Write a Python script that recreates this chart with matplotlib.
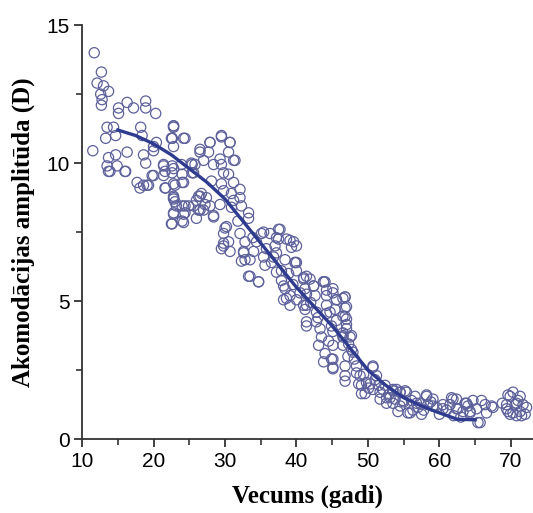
import matplotlib
matplotlib.use("Agg")
import matplotlib.pyplot as plt
from matplotlib.ticker import MultipleLocator

# scatter data (age, accommodation amplitude)
age = [
    11.7, 12.7, 12.1, 13.0, 13.7, 12.6, 12.8, 12.7, 11.5, 13.5, 14.4, 13.3, 14.7, 13.7, 13.5,
    13.7, 14.7, 14.9, 16.1, 16.3, 15.1, 16.3, 17.2, 18.9, 18.9, 20.3, 15.1, 18.2, 18.4, 18.6,
    18.9, 19.8, 17.7, 18.6, 19.3, 20.0, 22.8, 22.6, 24.4, 22.8, 21.4, 21.4, 22.6, 22.6, 24.0,
    21.7, 22.8, 24.0, 25.4, 25.4, 22.8, 23.0, 22.8, 24.0, 24.4, 22.6, 24.0, 24.9, 26.3, 26.3,
    26.5, 13.9, 16.0, 18.1, 19.1, 22.8, 22.6, 22.8,
    29.5, 30.7, 27.9, 26.5, 27.7, 30.5, 31.4, 27.0, 28.4, 29.5, 29.8, 30.5, 25.8, 25.6, 28.1,
    29.5, 31.2, 32.1, 29.8, 30.9, 26.7, 26.0, 27.2, 26.5, 27.9, 29.3, 31.2, 32.1, 32.3, 28.4,
    30.9, 33.3, 33.3, 30.2, 29.8, 30.5, 29.8, 32.1, 32.8, 32.6, 32.8, 34.0, 34.4, 35.1, 36.3,
    37.5, 37.2, 38.6, 39.3, 37.0, 35.4, 35.6, 36.5, 33.5, 34.7, 37.2, 37.9, 38.4, 38.6, 39.1,
    40.0, 40.0, 41.0, 41.2, 40.5, 41.0, 26.0,
    39.6, 39.8, 41.0, 41.9, 42.4, 43.8, 44.2, 45.1, 46.8, 47.0, 46.8, 45.6, 45.4, 44.2, 42.6,
    41.4, 41.2, 41.4, 42.8, 44.2, 45.6, 47.0, 47.7, 46.5, 45.1, 43.5, 43.1, 44.0, 43.8, 44.9,
    45.1, 45.1, 46.5, 47.2, 47.9, 46.8, 46.8, 48.4, 48.9, 49.1, 49.6, 50.7, 51.2, 50.3, 52.4,
    53.5, 54.5, 51.7, 53.1,
    52.1, 52.6, 53.5, 53.5, 54.5, 55.2, 54.9, 54.2, 55.6, 56.1, 56.6, 57.3, 57.5, 58.2, 58.4,
    59.1, 59.6, 60.5, 61.5, 61.7, 62.4, 62.6, 63.3, 63.6, 64.3, 64.7, 65.2, 65.4, 66.4, 66.6,
    67.5, 69.6, 70.3, 71.3, 69.4, 70.6, 71.7, 69.9, 70.8, 72.0, 69.6, 71.3,
    44.0, 45.1, 46.5, 46.8, 47.0, 47.0, 46.5, 47.5, 47.7, 45.1, 45.1, 46.8, 48.4, 49.8, 50.7,
    49.1, 50.7, 51.7, 52.6, 54.0, 55.4, 54.5, 55.9, 58.2, 59.1, 56.8, 60.5, 61.9, 62.4, 63.8,
    64.3, 65.7, 65.9, 67.3, 69.9, 70.8, 72.2, 70.3, 71.5, 69.4,
    22.8, 22.5, 24.2, 29.5, 30.7, 27.9, 31.2, 29.3, 20.4, 20.0, 21.4, 21.6, 20.0, 22.8, 23.9,
    25.3, 21.6, 23.0, 24.2, 22.8, 23.2, 24.4, 22.8, 24.2, 22.5, 24.2, 25.6, 27.0, 28.4, 26.5,
    27.4, 30.0, 29.8, 29.5, 30.7, 32.6, 32.3, 33.5, 33.3, 34.7, 35.4, 37.7, 37.5, 39.1, 40.0,
    37.2, 38.4, 39.8, 37.9, 38.2, 39.1, 38.2, 40.0, 41.4, 42.4, 43.8, 44.2, 45.6, 46.8, 41.4,
    42.8, 44.7, 41.4, 43.3, 44.9, 46.5, 46.5,
    # extra points in the dense middle and lower band
    31.8, 33.9, 35.8, 36.8, 38.9, 39.5, 42.0, 43.0, 44.5, 47.3, 48.1, 48.7, 49.4, 50.1, 51.0,
    51.5, 52.9, 53.8, 55.0, 56.3, 57.0, 57.8, 58.8, 60.0, 61.0, 62.0, 63.0, 64.0, 68.8, 71.0,
]
amplitude = [
    14.0, 13.3, 12.9, 12.8, 12.6, 12.5, 12.3, 12.1, 10.45, 11.3, 11.3, 10.9, 11.0, 10.2, 9.9,
    9.7, 10.3, 9.9, 9.7, 10.4, 12.0, 12.2, 12.0, 12.25, 12.0, 11.8, 11.8, 11.3, 11.0, 10.3,
    10.0, 9.55, 9.3, 9.2, 9.2, 10.6, 11.35, 10.9, 10.9, 10.6, 9.9, 9.55, 9.9, 9.65, 9.6,
    9.1, 9.25, 9.3, 9.95, 9.65, 8.8, 8.6, 8.2, 8.45, 8.2, 7.8, 7.9, 8.45, 8.8, 8.3,
    10.4, 9.7, 9.7, 9.1, 9.2, 11.3, 10.9, 8.7,
    11.0, 10.75, 10.75, 10.5, 10.4, 10.4, 10.1, 10.1, 9.95, 9.95, 9.65, 9.6, 9.95, 9.65, 9.35,
    9.25, 9.3, 9.05, 9.0, 8.9, 8.9, 8.65, 8.5, 8.3, 8.45, 8.5, 8.65, 8.75, 8.45, 8.1,
    8.4, 8.2, 8.0, 7.7, 7.45, 7.15, 7.0, 7.45, 7.15, 6.8, 6.5, 6.8, 7.15, 7.45, 7.45,
    7.6, 7.3, 7.25, 6.95, 7.0, 6.6, 6.3, 6.4, 5.9, 5.7, 6.05, 5.75, 5.45, 5.1, 4.85,
    6.4, 6.1, 5.8, 5.45, 5.3, 4.85, 8.0,
    7.15, 6.4, 5.85, 5.8, 5.55, 5.7, 5.4, 5.45, 5.15, 4.8, 4.45, 5.05, 4.7, 4.85, 5.2,
    5.25, 4.7, 4.25, 4.25, 4.55, 4.3, 4.15, 3.75, 3.75, 3.9, 3.7, 3.4, 3.1, 2.8, 2.9,
    2.55, 3.4, 3.4, 3.0, 3.15, 2.65, 2.3, 2.65, 2.3, 1.95, 1.65, 2.65, 2.3, 2.0, 1.95,
    1.75, 1.7, 1.7, 1.5,
    1.8, 1.5, 1.3, 1.8, 1.7, 1.75, 1.4, 1.0, 0.95, 1.4, 1.55, 1.3, 0.9, 1.6, 1.25,
    1.45, 1.15, 1.1, 1.25, 1.5, 1.45, 1.1, 1.0, 1.3, 1.0, 1.4, 1.1, 0.6, 1.25, 0.95,
    1.15, 1.6, 1.7, 1.55, 1.25, 1.25, 1.25, 0.9, 0.85, 0.9, 1.0, 1.0,
    5.7, 5.3, 5.1, 4.75, 4.35, 4.0, 3.7, 3.7, 3.25, 2.9, 2.6, 2.1, 2.4, 2.05, 2.6,
    1.65, 1.8, 1.45, 1.3, 1.8, 1.7, 1.2, 0.95, 1.55, 1.2, 1.3, 1.25, 1.45, 1.1, 1.3,
    0.95, 0.6, 1.4, 1.2, 1.55, 1.3, 1.15, 0.95, 0.85, 1.1,
    11.35, 10.9, 10.9, 10.95, 10.75, 10.75, 10.1, 10.15, 10.75, 10.45, 9.95, 9.7, 9.55, 9.8, 9.95,
    10.0, 9.1, 9.2, 9.3, 8.75, 8.45, 8.45, 8.15, 8.15, 7.8, 7.85, 8.45, 8.3, 8.05, 8.8,
    8.75, 7.65, 7.1, 6.9, 6.8, 6.75, 6.45, 6.5, 5.9, 5.7, 7.5, 7.6, 7.25, 7.2, 7.0,
    6.75, 6.5, 6.4, 6.1, 5.55, 5.2, 5.05, 5.05, 5.9, 5.55, 5.7, 5.2, 5.05, 5.15, 4.85,
    4.6, 4.6, 4.1, 4.0, 4.1, 4.45, 3.85,
    7.9, 7.3, 6.9, 6.6, 6.0, 5.6, 4.95, 4.4, 3.55, 3.45, 2.9, 2.0, 2.35, 1.85, 2.15,
    1.95, 1.6, 1.45, 1.35, 1.05, 1.15, 1.05, 1.35, 0.9, 1.05, 0.85, 0.8, 1.2, 1.3, 1.4,
]

# fitted curve
fit_age = [15, 17.5, 20, 22.5, 25, 27.5, 30, 32.5, 35, 37.5, 40, 42.5, 45, 47.5,
           50, 52.5, 55, 57.5, 60, 62.5, 65]
fit_amp = [11.2, 11.0, 10.7, 10.3, 9.8, 9.3, 8.7, 7.9, 7.1, 6.3, 5.5, 4.8, 4.1, 3.3,
           2.5, 1.95, 1.5, 1.2, 0.95, 0.72, 0.7]

fig = plt.figure(figsize=(5.33, 5.13), dpi=100)
ax = fig.add_axes([0.154, 0.144, 0.846, 0.807])

ax.scatter(age, amplitude, s=54, facecolors="none", edgecolors="#5d619b",
           linewidths=0.9, zorder=2)
ax.plot(fit_age, fit_amp, color="#2e3b8f", lw=2.4, zorder=3)

ax.set_xlim(10, 73.1)
ax.set_ylim(0, 15)
ax.xaxis.set_major_locator(MultipleLocator(10))
ax.xaxis.set_minor_locator(MultipleLocator(5))
ax.yaxis.set_major_locator(MultipleLocator(5))
ax.yaxis.set_minor_locator(MultipleLocator(2.5))

for side in ["top", "right"]:
    ax.spines[side].set_visible(False)
for side in ["left", "bottom"]:
    ax.spines[side].set_color("#333333")
    ax.spines[side].set_linewidth(1.3)

ax.tick_params(which="major", direction="out", length=6, width=1.3, color="#333333",
               labelsize=15, pad=3)
ax.tick_params(which="minor", direction="out", length=4, width=1.2, color="#333333")
for lab in ax.get_xticklabels() + ax.get_yticklabels():
    lab.set_family("Liberation Sans")

ax.set_xlabel("Vecums (gadi)", family="Liberation Serif", fontweight="bold",
              fontsize=18, labelpad=10)
ax.set_ylabel("Akomodācijas amplitūda (D)", family="Liberation Serif",
              fontweight="bold", fontsize=18, labelpad=8)

fig.savefig("out.png", dpi=100)
